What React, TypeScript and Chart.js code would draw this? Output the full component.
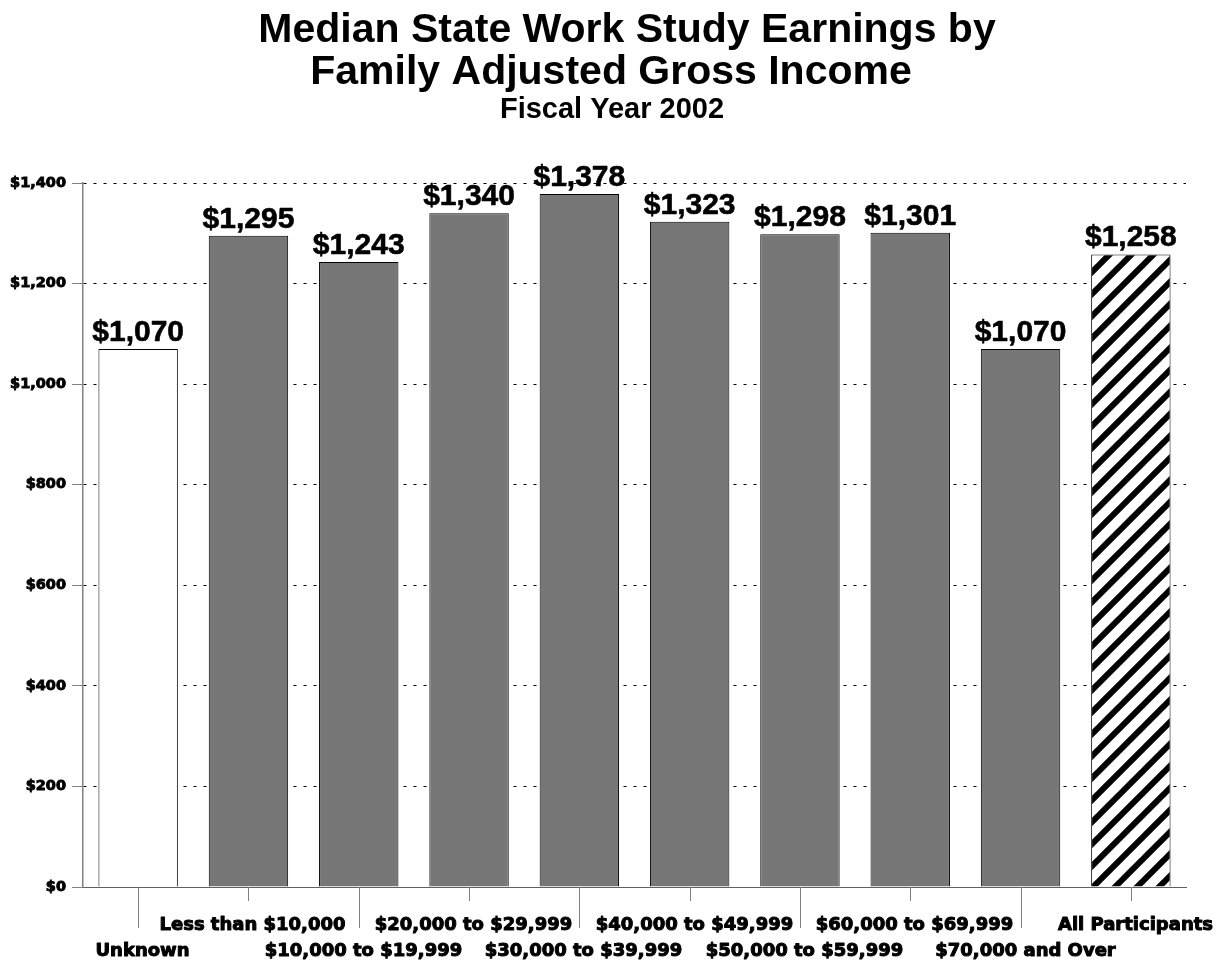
import { useEffect, useRef } from 'react';
import { Chart, registerables } from 'chart.js';

Chart.register(...registerables);

const titleLines = ['Median State Work Study Earnings by', 'Family Adjusted Gross Income'];
const subtitle = 'Fiscal Year 2002';

const categories = [
  'Unknown',
  'Less than $10,000',
  '$10,000 to $19,999',
  '$20,000 to $29,999',
  '$30,000 to $39,999',
  '$40,000 to $49,999',
  '$50,000 to $59,999',
  '$60,000 to $69,999',
  '$70,000 and Over',
  'All Participants',
];

const earnings = [1070, 1295, 1243, 1340, 1378, 1323, 1298, 1301, 1070, 1258];

const yMin = 0;
const yMax = 1400;
const yStep = 200;

const fmt = (v: number) => '$' + v.toLocaleString('en-US');

function makeHatch(): CanvasPattern | string {
  const size = 22;
  const c = document.createElement('canvas');
  c.width = size;
  c.height = size;
  const g = c.getContext('2d');
  if (!g) return '#fff';
  g.fillStyle = '#ffffff';
  g.fillRect(0, 0, size, size);
  g.strokeStyle = '#000000';
  g.lineWidth = 6;
  g.lineCap = 'square';
  for (const o of [-size, 0, size]) {
    g.beginPath();
    g.moveTo(o - 2, size + 2);
    g.lineTo(o + size + 2, -2);
    g.stroke();
  }
  return g.createPattern(c, 'repeat') || '#fff';
}

export default function App() {
  const ref = useRef<HTMLCanvasElement | null>(null);

  useEffect(() => {
    document.body.style.margin = '0';
    const canvas = ref.current;
    if (!canvas) return;
    const hatch = makeHatch();
    const colors = earnings.map((_, i) =>
      i === 0 ? '#ffffff' : i === earnings.length - 1 ? hatch : '#777777'
    );

    const annotate = {
      id: 'annotate',
      afterDatasetsDraw(chart: any) {
        const ctx: CanvasRenderingContext2D = chart.ctx;
        const meta = chart.getDatasetMeta(0);
        const xs = chart.scales.x;
        const bottom = chart.chartArea.bottom;
        ctx.save();
        ctx.fillStyle = '#000';
        ctx.strokeStyle = '#000';
        ctx.textAlign = 'center';
        ctx.textBaseline = 'alphabetic';
        ctx.lineJoin = 'round';

        // value labels
        ctx.font = 'bold 30px "Liberation Sans", Arial, sans-serif';
        ctx.lineWidth = 0.6;
        meta.data.forEach((bar: any, i: number) => {
          ctx.fillText(fmt(earnings[i]), bar.x, bar.y - 8);
          ctx.strokeText(fmt(earnings[i]), bar.x, bar.y - 8);
        });

        // category ticks and labels
        ctx.font = 'bold 18px "DejaVu Sans", sans-serif';
        categories.forEach((c, i) => {
          const x = Math.round(xs.getPixelForValue(i)) + 0.5;
          const lower = i % 2 === 0;
          ctx.strokeStyle = '#808080';
          ctx.lineWidth = 1;
          ctx.beginPath();
          ctx.moveTo(x, bottom);
          ctx.lineTo(x, bottom + (lower ? 41 : 14));
          ctx.stroke();
          const ty = bottom + (lower ? 69 : 43);
          ctx.strokeStyle = '#000';
          ctx.lineWidth = 1;
          ctx.fillText(c, x + 4, ty);
          ctx.strokeText(c, x + 4, ty);
        });

        // titles
        ctx.font = 'bold 41px "Liberation Sans", Arial, sans-serif';
        ctx.fillText(titleLines[0], 627, 42);
        ctx.fillText(titleLines[1], 611, 84);
        ctx.font = 'bold 29px "Liberation Sans", Arial, sans-serif';
        ctx.fillText(subtitle, 612, 118);
        ctx.restore();
      },
    };

    const chart = new Chart(canvas, {
      type: 'bar',
      data: {
        labels: categories,
        datasets: [
          {
            data: earnings,
            backgroundColor: colors as any,
            borderColor: '#000000',
            borderWidth: 1,
            barPercentage: 0.72,
            categoryPercentage: 1,
          },
        ],
      },
      options: {
        responsive: false,
        animation: false,
        layout: { padding: { top: 183, right: 44, bottom: 76, left: 0 } },
        plugins: {
          legend: { display: false },
          title: { display: false },
          tooltip: { enabled: false },
        },
        scales: {
          x: {
            type: 'category',
            grid: { display: false },
            ticks: { display: false },
            border: { display: true, color: '#606060', width: 1 },
            afterFit: (s: any) => {
              s.height = 0;
            },
          },
          y: {
            min: yMin,
            max: yMax,
            ticks: {
              stepSize: yStep,
              padding: 6,
              color: '#000',
              textStrokeColor: '#000',
              textStrokeWidth: 0.9,
              font: { family: '"DejaVu Sans", sans-serif', weight: 'bold', size: 14.5 },
              callback: (v: any) => fmt(Number(v)),
            },
            grid: {
              color: '#000000',
              lineWidth: 1,
              tickLength: 11,
              tickColor: '#808080',
              tickBorderDash: [],
            },
            border: { display: true, color: '#808080', width: 1.5, dash: [3, 7] },
            afterFit: (s: any) => {
              s.width = 83;
            },
          },
        },
      },
      plugins: [annotate],
    });
    return () => chart.destroy();
  }, []);

  return <canvas ref={ref} width={1230} height={963} style={{ display: 'block' }} />;
}
